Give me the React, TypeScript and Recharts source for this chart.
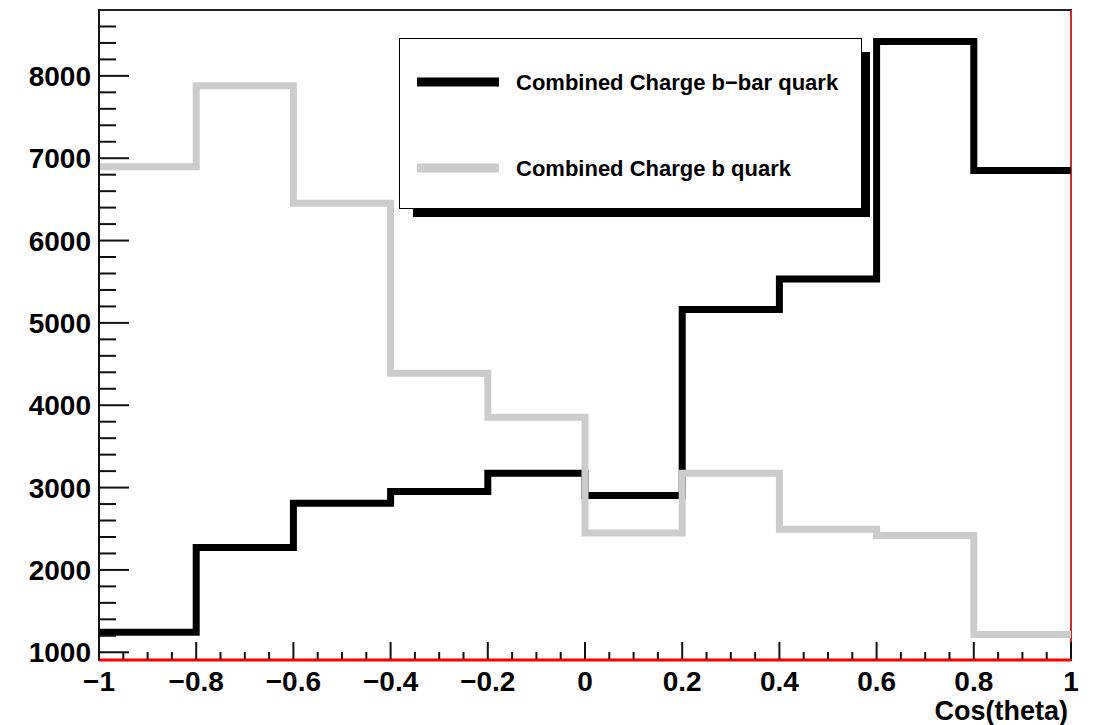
import { LineChart, Line, XAxis, YAxis, ReferenceArea, ReferenceLine } from "recharts";

// bin lower edges, each bin is 0.2 wide
const binLow = [-1, -0.8, -0.6, -0.4, -0.2, 0, 0.2, 0.4, 0.6, 0.8];
const binHigh = 1;
const bbarQuark = [1243, 2271, 2810, 2951, 3174, 2905, 5162, 5534, 8417, 6850];
const bQuark = [6895, 7881, 6454, 4389, 3854, 2447, 3174, 2494, 2417, 1215];

const seriesNames = ["Combined Charge b\u2212bar quark", "Combined Charge b quark"];
const yDomain = [906, 8800];
const xTicks = Array.from({ length: 41 }, (_, i) => Math.round((-1 + i * 0.05) * 100) / 100);
const yTicks = Array.from({ length: 39 }, (_, i) => 1000 + i * 200);

const FONT = "'Liberation Sans', Arial, Helvetica, sans-serif";

const data = [
  ...binLow.map((x, i) => ({ x, bbar: bbarQuark[i], b: bQuark[i] })),
  // close the last bin at its upper edge
  { x: binHigh, bbar: bbarQuark[bbarQuark.length - 1], b: bQuark[bQuark.length - 1] },
];

const fmt = (v: number) => (v < 0 ? "\u2212" + String(-v) : String(v));

function XTick(props: any) {
  const { x, y, payload } = props;
  const v = payload.value as number;
  const major = Math.abs(v * 5 - Math.round(v * 5)) < 1e-6;
  return (
    <g>
      <line x1={x} x2={x} y1={y - 1} y2={y - (major ? 18 : 8)} stroke="#111" strokeWidth={2} />
      {major && (
        <text x={x} y={y + 31} textAnchor="middle" fontSize={28} fontWeight="bold" fontFamily={FONT} fill="#000">
          {fmt(v)}
        </text>
      )}
    </g>
  );
}

function YTick(props: any) {
  const { x, y, payload } = props;
  const v = payload.value as number;
  const major = v % 1000 === 0;
  return (
    <g>
      <line x1={x} x2={x + (major ? 30 : 17)} y1={y} y2={y} stroke="#111" strokeWidth={2} />
      {major && (
        <text x={x - 8} y={y + 10} textAnchor="end" fontSize={28} fontWeight="bold" fontFamily={FONT} fill="#000">
          {v}
        </text>
      )}
    </g>
  );
}

export default function App() {
  return (
    <div style={{ position: "absolute", left: 0, top: 0, width: 1093, height: 725, background: "#fff" }}>
      <LineChart width={1093} height={725} data={data} margin={{ top: 10, right: 22, bottom: 0, left: 9 }}>
        <ReferenceArea x1={-1} x2={1} y1={yDomain[0]} y2={yDomain[1]} fill="none" stroke="#222" strokeWidth={2} ifOverflow="visible" />
        <ReferenceLine x={1} stroke="#ff3333" strokeWidth={1.5} ifOverflow="visible" />
        <XAxis
          dataKey="x"
          type="number"
          domain={[-1, 1]}
          ticks={xTicks}
          interval={0}
          height={65}
          tickSize={0}
          tickMargin={0}
          tickLine={false}
          axisLine={{ stroke: "#ff0000", strokeWidth: 3 }}
          tick={<XTick />}
        />
        <YAxis
          type="number"
          domain={yDomain}
          ticks={yTicks}
          interval={0}
          width={90}
          tickSize={0}
          tickMargin={0}
          tickLine={false}
          axisLine={{ stroke: "#111", strokeWidth: 2 }}
          tick={<YTick />}
          allowDataOverflow
        />
        <Line
          type="stepAfter"
          dataKey="bbar"
          name={seriesNames[0]}
          stroke="#000"
          strokeWidth={7}
          dot={false}
          activeDot={false}
          isAnimationActive={false}
        />
        <Line
          type="stepAfter"
          dataKey="b"
          name={seriesNames[1]}
          stroke="#cccccc"
          strokeWidth={7}
          dot={false}
          activeDot={false}
          isAnimationActive={false}
        />
      </LineChart>
      {/* legend box with ROOT-style shadow */}
      <div style={{ position: "absolute", left: 413, top: 52, width: 457, height: 165, background: "#000" }} />
      <div
        style={{
          position: "absolute",
          left: 399,
          top: 38,
          width: 461,
          height: 169,
          background: "#fff",
          border: "1.5px solid #000",
        }}
      >
        <svg width={461} height={169} style={{ display: "block" }}>
          <line x1={17} x2={99} y1={43} y2={43} stroke="#000" strokeWidth={9} />
          <text x={116} y={51} fontSize={22} fontWeight="bold" fontFamily={FONT} fill="#000">
            {seriesNames[0]}
          </text>
          <line x1={17} x2={99} y1={129} y2={129} stroke="#cccccc" strokeWidth={9} />
          <text x={116} y={137} fontSize={22} fontWeight="bold" fontFamily={FONT} fill="#000">
            {seriesNames[1]}
          </text>
        </svg>
      </div>
      <div
        style={{
          position: "absolute",
          right: 1093 - 1068,
          top: 698,
          fontFamily: FONT,
          fontWeight: "bold",
          fontSize: 27,
          lineHeight: "27px",
          whiteSpace: "nowrap",
        }}
      >
        Cos(theta)
      </div>
    </div>
  );
}
